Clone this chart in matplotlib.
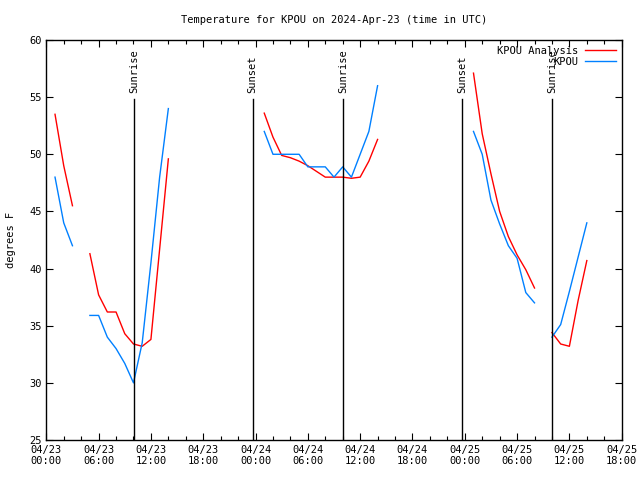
import numpy as np
import pandas as pd
import matplotlib
matplotlib.use('Agg')
import matplotlib.pyplot as plt
import matplotlib.dates as mdates

nan = np.nan
start = pd.Timestamp('2024-04-23 00:00')
hours = list(range(1, 63))

# KPOU Analysis (red)
analysis = [53.5, 49.0, 45.5, nan, 41.3, 37.7, 36.2, 36.2, 34.3, 33.4, 33.2, 33.8, 41.7, 49.6,
            nan, nan, nan, nan, nan, nan, nan, nan, nan, nan,
            53.6, 51.5, 49.9, 49.7, 49.4, 49.0, 48.5, 48.0, 48.0, 48.0, 47.9, 48.0, 49.4, 51.3,
            nan, nan, nan, nan, nan, nan, nan, nan, nan, nan,
            57.1, 51.8, 48.3, 45.0, 42.8, 41.2, 39.9, 38.3, nan, 34.4, 33.4, 33.2, 37.2, 40.7]
# KPOU observed (blue)
observed = [48.0, 44.0, 42.0, nan, 35.9, 35.9, 34.0, 33.0, 31.7, 30.0, 33.5, 40.5, 48.0, 54.0,
            nan, nan, nan, nan, nan, nan, nan, nan, nan, nan,
            52.0, 50.0, 50.0, 50.0, 50.0, 48.9, 48.9, 48.9, 48.0, 48.9, 48.0, 50.0, 52.0, 56.0,
            nan, nan, nan, nan, nan, nan, nan, nan, nan, nan,
            52.0, 50.0, 46.0, 43.9, 42.0, 40.9, 37.9, 37.0, nan, 34.0, 35.1, 38.0, 41.0, 44.0]

sun_events = ['Sunrise', 'Sunset', 'Sunrise', 'Sunset', 'Sunrise']
sun_hours = [10.07, 23.67, 34.05, 47.68, 58.03]

times = [start + pd.Timedelta(hours=h) for h in hours]
sun_times = [start + pd.Timedelta(hours=h) for h in sun_hours]

mono = 'DejaVu Sans Mono'
fig = plt.figure(figsize=(6.4, 4.8), dpi=100)
ax = fig.add_axes([46.3/640, 40/480, (621.7-46.3)/640, 400/480])

ax.plot(times, analysis, color='#ff0000', lw=1, label='KPOU Analysis')
ax.plot(times, observed, color='#0080ff', lw=1, label='KPOU')

for name, t in zip(sun_events, sun_times):
    ax.plot([t, t], [25, 54.8], color='black', lw=1)
    ax.text(t, 55.4, name, rotation=90, ha='center', va='bottom', fontsize=7.5, family=mono)

ax.set_xlim(start, start + pd.Timedelta(hours=66))
ax.set_ylim(25, 60)
ax.set_yticks(range(25, 61, 5))
ax.xaxis.set_major_locator(mdates.HourLocator(byhour=[0, 6, 12, 18]))
ax.xaxis.set_minor_locator(mdates.HourLocator(interval=2))
ax.xaxis.set_major_formatter(mdates.DateFormatter('%m/%d\n%H:%M'))
ax.tick_params(which='both', direction='in', top=True, right=True, labelsize=7.5, width=0.8)
ax.tick_params(which='major', length=5)
ax.tick_params(which='minor', length=3)
for lab in ax.get_xticklabels() + ax.get_yticklabels():
    lab.set_family(mono)
for s in ax.spines.values():
    s.set_linewidth(1)

ax.set_ylabel('degrees F', fontsize=7.5, family=mono, labelpad=9)
ax.set_title('Temperature for KPOU on 2024-Apr-23 (time in UTC)', fontsize=7.5, family=mono, pad=12)

leg = ax.legend(loc='upper right', frameon=False, markerfirst=False,
                prop={'family': mono, 'size': 7.5}, handlelength=3.0, labelspacing=0.1,
                borderaxespad=0.15, handletextpad=0.6)
for t in leg.get_texts():
    t.set_ha('right')

fig.savefig('out.png', dpi=100)
